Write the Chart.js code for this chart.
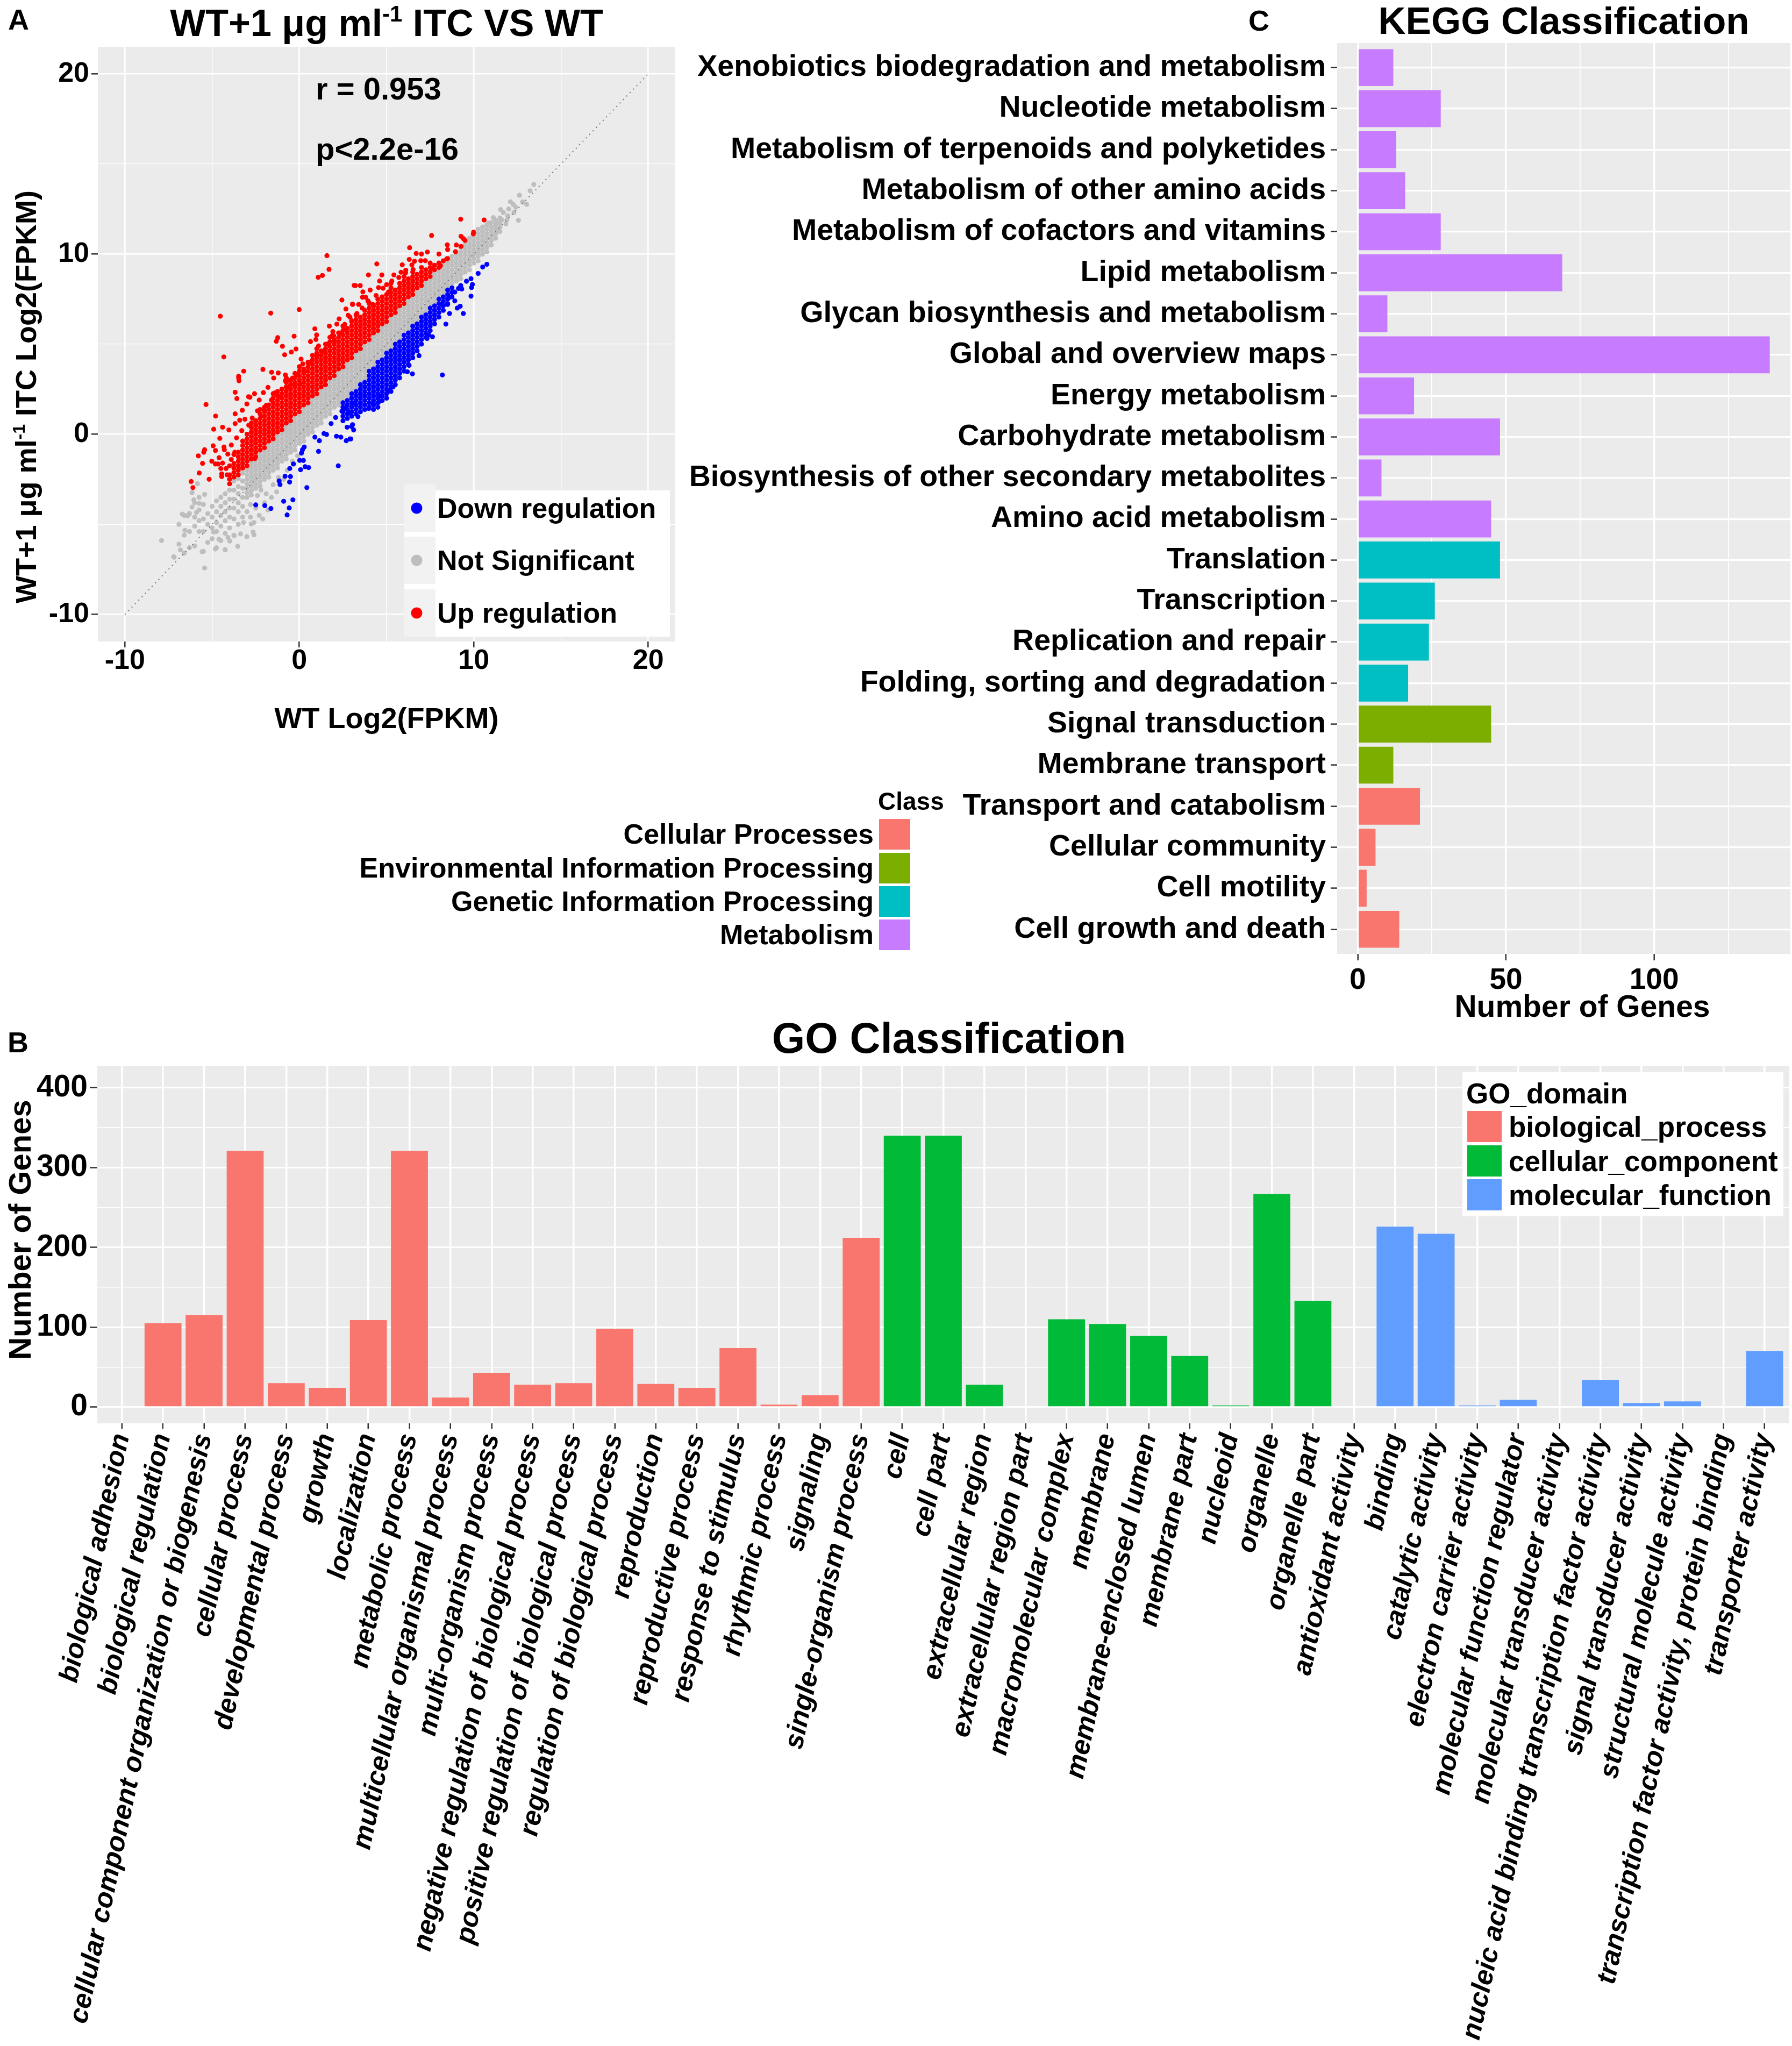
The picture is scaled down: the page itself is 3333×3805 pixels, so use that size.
<!DOCTYPE html>
<html>
<head>
<meta charset="utf-8">
<script src="https://cdn.jsdelivr.net/npm/chart.js@4.4.1/dist/chart.umd.min.js"></script>
<style>
  body { margin: 0; background: #fff; width: 3333px; height: 3805px; position: relative; overflow: hidden; }
  canvas { position: absolute; }
  .tag { position: absolute; font: bold 54px "Liberation Sans", Arial, sans-serif; line-height: 1; color: #000; }
</style>
</head>
<body>
<canvas id="scatterChart" width="1300" height="1420" style="left:0;top:0;width:1300px;height:1420px"></canvas>
<canvas id="keggChart" width="2733" height="1910" style="left:600px;top:0;width:2733px;height:1910px"></canvas>
<canvas id="goChart" width="3333" height="1925" style="left:0;top:1880px;width:3333px;height:1925px"></canvas>
<div class="tag" style="left:15px;top:9px">A</div>
<div class="tag" style="left:14px;top:1911px">B</div>
<div class="tag" style="left:2322px;top:11px">C</div>
<script>
var FAM = "'Liberation Sans', Arial, sans-serif";
Chart.defaults.font.family = FAM;
Chart.defaults.font.weight = 'bold';
Chart.defaults.color = '#000';

// ---------- Panel A: WT+1 ug/ml ITC vs WT (log2 FPKM) ----------
// grey band (not significant), columns of [x, [y...]]
var nsBand = [
  [-3, [-3.5, -3.25, -3, -2.75, -2.5, -2.25, -2]],
  [-2.75, [-3.375, -3.125, -2.875, -2.625, -2.375, -2.125, -1.875, -1.625]],
  [-2.5, [-3, -2.75, -2.5, -2.25, -2, -1.75, -1.5]],
  [-2.25, [-2.875, -2.625, -2.375, -2.125, -1.875, -1.625, -1.375, -1.125]],
  [-2, [-2.5, -2.25, -2, -1.75, -1.5, -1.25, -1]],
  [-1.75, [-2.375, -2.125, -1.875, -1.625, -1.375, -1.125, -0.875, -0.625]],
  [-1.5, [-2, -1.75, -1.5, -1.25, -1, -0.75, -0.5]],
  [-1.25, [-1.875, -1.625, -1.375, -1.125, -0.875, -0.625, -0.375, -0.125]],
  [-1, [-1.5, -1.25, -1, -0.75, -0.5, -0.25, 0]],
  [-0.75, [-1.375, -1.125, -0.875, -0.625, -0.375, -0.125, 0.125, 0.375]],
  [-0.5, [-1, -0.75, -0.5, -0.25, 0, 0.25, 0.5]],
  [-0.25, [-0.875, -0.625, -0.375, -0.125, 0.125, 0.375, 0.625, 0.875]],
  [0, [-0.5, -0.25, 0, 0.25, 0.5, 0.75, 1]],
  [0.25, [-0.375, -0.125, 0.125, 0.375, 0.625, 0.875, 1.125, 1.375]],
  [0.5, [0, 0.25, 0.5, 0.75, 1, 1.25, 1.5]],
  [0.75, [0.125, 0.375, 0.625, 0.875, 1.125, 1.375, 1.625, 1.875]],
  [1, [0.5, 0.75, 1, 1.25, 1.5, 1.75, 2]],
  [1.25, [0.625, 0.875, 1.125, 1.375, 1.625, 1.875, 2.125, 2.375]],
  [1.5, [1, 1.25, 1.5, 1.75, 2, 2.25, 2.5]],
  [1.75, [1.125, 1.375, 1.625, 1.875, 2.125, 2.375, 2.625, 2.875]],
  [2, [1.5, 1.75, 2, 2.25, 2.5, 2.75, 3]],
  [2.25, [1.625, 1.875, 2.125, 2.375, 2.625, 2.875, 3.125, 3.375]],
  [2.5, [2, 2.25, 2.5, 2.75, 3, 3.25, 3.5]],
  [2.75, [2.125, 2.375, 2.625, 2.875, 3.125, 3.375, 3.625, 3.875]],
  [3, [2.5, 2.75, 3, 3.25, 3.5, 3.75, 4]],
  [3.25, [2.625, 2.875, 3.125, 3.375, 3.625, 3.875, 4.125, 4.375]],
  [3.5, [3, 3.25, 3.5, 3.75, 4, 4.25, 4.5]],
  [3.75, [3.125, 3.375, 3.625, 3.875, 4.125, 4.375, 4.625, 4.875]],
  [4, [3.75, 4, 4.25, 4.5, 4.75, 5]],
  [4.25, [3.875, 4.125, 4.375, 4.625, 4.875, 5.125, 5.375]],
  [4.5, [4.25, 4.5, 4.75, 5, 5.25, 5.5]],
  [4.75, [4.375, 4.625, 4.875, 5.125, 5.375, 5.625, 5.875]],
  [5, [4.75, 5, 5.25, 5.5, 5.75, 6]],
  [5.25, [4.875, 5.125, 5.375, 5.625, 5.875, 6.125, 6.375]],
  [5.5, [5.25, 5.5, 5.75, 6, 6.25, 6.5]],
  [5.75, [5.375, 5.625, 5.875, 6.125, 6.375, 6.625, 6.875]],
  [6, [5.75, 6, 6.25, 6.5, 6.75, 7]],
  [6.25, [5.875, 6.125, 6.375, 6.625, 6.875, 7.125, 7.375]],
  [6.5, [6.25, 6.5, 6.75, 7, 7.25, 7.5]],
  [6.75, [6.375, 6.625, 6.875, 7.125, 7.375, 7.625, 7.875]],
  [7, [6.75, 7, 7.25, 7.5, 7.75, 8]],
  [7.25, [6.875, 7.125, 7.375, 7.625, 7.875, 8.125, 8.375]],
  [7.5, [7.25, 7.5, 7.75, 8, 8.25, 8.5]],
  [7.75, [7.375, 7.625, 7.875, 8.125, 8.375, 8.625, 8.875]],
  [8, [7.75, 8, 8.25, 8.5, 8.75, 9]],
  [8.25, [7.875, 8.125, 8.375, 8.625, 8.875, 9.125, 9.375]],
  [8.5, [8.25, 8.5, 8.75, 9, 9.25, 9.5]],
  [8.75, [8.375, 8.625, 8.875, 9.125, 9.375, 9.625, 9.875]],
  [9, [8.5, 8.75, 9, 9.25, 9.5, 9.75, 10]],
  [9.25, [8.625, 8.875, 9.125, 9.375, 9.625, 9.875, 10.125, 10.375]],
  [9.5, [9, 9.25, 9.5, 9.75, 10, 10.25, 10.5]],
  [9.75, [9.125, 9.375, 9.625, 9.875, 10.125, 10.375, 10.625, 10.875]],
  [10, [9.5, 9.75, 10, 10.25, 10.5, 10.75, 11]],
  [10.25, [9.625, 9.875, 10.125, 10.375, 10.625, 10.875, 11.125, 11.375]],
  [10.5, [10, 10.25, 10.5, 10.75, 11, 11.25, 11.5]],
  [10.75, [10.125, 10.375, 10.625, 10.875, 11.125, 11.375, 11.625]],
  [11, [10.5, 10.75, 11, 11.25, 11.5, 11.75]],
  [11.25, [10.875, 11.125, 11.375, 11.625, 11.875]],
  [11.5, [11.25, 11.5, 11.75, 12]]
];
// grey points outside the main band: low-expression tail and high end
var nsLoose = [
  [-3.25, -4.6], [-3.25, -4.0], [-3.25, -3.5], [-3.25, -3.0], [-3.25, -2.6], [-3.25, -2.15],
  [-3.5, -5.0], [-3.5, -4.3], [-3.5, -3.8], [-3.5, -3.3], [-3.5, -2.9], [-3.5, -2.45],
  [-3.75, -5.6], [-3.75, -4.7], [-3.75, -4.1], [-3.75, -3.6], [-3.75, -3.1], [-3.75, -2.6],
  [-4.0, -5.2], [-4.0, -4.6], [-4.0, -4.1], [-4.0, -3.6], [-4.0, -3.1],
  [-4.25, -6.4], [-4.25, -5.5], [-4.25, -4.8], [-4.25, -4.3], [-4.25, -3.8], [-4.25, -3.3],
  [-4.5, -5.9], [-4.5, -5.1], [-4.5, -4.5], [-4.5, -4.0], [-4.5, -3.5],
  [-4.75, -6.3], [-4.75, -5.4], [-4.75, -4.9], [-4.75, -4.3], [-4.75, -3.7],
  [-5.0, -5.8], [-5.0, -5.2], [-5.0, -4.6], [-5.0, -4.0],
  [-5.25, -6.0], [-5.25, -5.0], [-5.25, -4.4],
  [-5.5, -6.5], [-5.5, -5.4], [-5.5, -4.7], [-5.5, -3.9],
  [-5.75, -5.4], [-5.75, -4.8], [-5.75, -4.2], [-5.75, -3.5],
  [-6.0, -6.2], [-6.0, -5.1], [-6.0, -4.6], [-6.0, -3.8],
  [-6.3, -6.3], [-6.3, -5.4], [-6.3, -4.4], [-6.6, -6.6], [-6.6, -5.6], [-6.6, -4.5],
  [-6.9, -6.1], [-6.9, -5.0], [-7.2, -6.8], [-7.9, -5.9], [-5.43, -7.42], [-6.82, -6.42],
  [-7.18, -6.82], [-4.81, -6.37], [-4.25, -6.42], [-3.53, -6.22], [-3.01, -5.68], [-2.65, -5.43],
  [-2.6, -5.58], [-2.76, -4.98], [-6.71, -4.43], [-6.41, -4.53], [-6.56, -5.33], [-6.15, -4.04],
  [-5.89, -4.33], [-5.74, -3.84], [-5.43, -3.34], [-6.05, -3.64], [-6.15, -3.24], [-5.84, -2.74],
  [-4.91, -5.43], [-4.61, -5.83], [-4.09, -5.73], [-3.99, -5.93], [-3.73, -5.63], [-3.37, -5.53],
  [-5.58, -6.52], [-3.0, -4.3], [-2.8, -4.6], [-2.5, -4.1], [-2.3, -4.5], [-2.0, -3.8],
  [-1.8, -4.2], [-1.6, -3.5], [-1.3, -3.2], [-1.1, -2.8], [-0.9, -2.5], [-3.2, -4.9],
  [-2.6, -4.9], [-2.1, -4.7], [-1.9, -3.3], [-2.4, -3.4], [-1.5, -2.8], [-1.2, -2.4],
  [-0.7, -2.0], [-2.8, -3.9], [-2.2, -3.1], [-0.4, -1.5], [-0.1, -1.2],
  [11.54, 12.47], [11.12, 12.02], [11.95, 12.12], [12.56, 11.87], [11.84, 11.67], [10.82, 11.72],
  [11.43, 11.27], [12.26, 12.76], [13.03, 12.76], [12.62, 13.26], [13.23, 13.51], [13.44, 13.86],
  [11.7, 12.3], [12.0, 12.5], [12.3, 12.3], [11.6, 11.9], [12.1, 12.9], [12.8, 12.9],
  [11.3, 11.7], [12.4, 12.6], [11.9, 11.9]
];
// up-regulated (red) dense body
var upBand = [
  [-4, [-2.75, -2.5, -2.25, -1.75]],
  [-3.75, [-2.375, -2.125, -1.875, -1.625, -1.125]],
  [-3.5, [-2.25, -2, -1.75, -1.5, -1.25, -1]],
  [-3.25, [-1.875, -1.625, -1.375, -1.125, -0.875, -0.625, -0.375]],
  [-3, [-1.75, -1.5, -1.25, -1, -0.75, -0.5, -0.25, 0]],
  [-2.75, [-1.375, -1.125, -0.875, -0.625, -0.375, -0.125, 0.125, 0.375, 0.625]],
  [-2.5, [-1.25, -1, -0.75, -0.5, -0.25, 0, 0.25, 0.5, 0.75]],
  [-2.25, [-0.875, -0.625, -0.375, -0.125, 0.125, 0.375, 0.625, 0.875, 1.125, 1.375]],
  [-2, [-0.75, -0.5, -0.25, 0, 0.25, 0.5, 0.75, 1, 1.25, 1.5]],
  [-1.75, [-0.375, -0.125, 0.125, 0.375, 0.625, 0.875, 1.125, 1.375, 1.625]],
  [-1.5, [-0.25, 0, 0.25, 0.5, 0.75, 1, 1.25, 1.5, 1.75, 2, 2.25]],
  [-1.25, [0.125, 0.375, 0.625, 0.875, 1.125, 1.375, 1.625, 1.875, 2.125, 2.375]],
  [-1, [0.25, 0.5, 0.75, 1, 1.25, 1.5, 1.75, 2, 2.25, 2.5]],
  [-0.75, [0.625, 0.875, 1.125, 1.375, 1.625, 1.875, 2.125, 2.375, 2.625, 2.875, 3.125]],
  [-0.5, [0.75, 1, 1.25, 1.5, 1.75, 2, 2.25, 2.5, 2.75, 3]],
  [-0.25, [1.125, 1.375, 1.625, 1.875, 2.125, 2.375, 2.625, 2.875, 3.125, 3.375]],
  [0, [1.25, 1.5, 1.75, 2, 2.25, 2.5, 2.75, 3, 3.25, 3.5, 3.75]],
  [0.25, [1.625, 1.875, 2.125, 2.375, 2.625, 2.875, 3.125, 3.375, 3.625]],
  [0.5, [1.75, 2, 2.25, 2.5, 2.75, 3, 3.25, 3.5, 3.75, 4]],
  [0.75, [2.125, 2.375, 2.625, 2.875, 3.125, 3.375, 3.625, 3.875, 4.125, 4.375]],
  [1, [2.25, 2.5, 2.75, 3, 3.25, 3.5, 3.75, 4, 4.25, 4.5, 4.75]],
  [1.25, [2.625, 2.875, 3.125, 3.375, 3.625, 3.875, 4.125, 4.375, 4.625]],
  [1.5, [2.75, 3, 3.25, 3.5, 3.75, 4, 4.25, 4.5, 4.75, 5]],
  [1.75, [3.125, 3.375, 3.625, 3.875, 4.125, 4.375, 4.625, 4.875, 5.125, 5.375]],
  [2, [3.25, 3.5, 3.75, 4, 4.25, 4.5, 4.75, 5, 5.25]],
  [2.25, [3.625, 3.875, 4.125, 4.375, 4.625, 4.875, 5.125, 5.375, 5.625]],
  [2.5, [3.75, 4, 4.25, 4.5, 4.75, 5, 5.25, 5.5, 5.75, 6]],
  [2.75, [4.125, 4.375, 4.625, 4.875, 5.125, 5.375, 5.625, 5.875]],
  [3, [4.25, 4.5, 4.75, 5, 5.25, 5.5, 5.75, 6, 6.25]],
  [3.25, [4.625, 4.875, 5.125, 5.375, 5.625, 5.875, 6.125, 6.375, 6.625]],
  [3.5, [4.75, 5, 5.25, 5.5, 5.75, 6, 6.25, 6.5]],
  [3.75, [5.125, 5.375, 5.625, 5.875, 6.125, 6.375, 6.625, 6.875]],
  [4, [5.25, 5.5, 5.75, 6, 6.25, 6.5, 6.75, 7, 7.25]],
  [4.25, [5.625, 5.875, 6.125, 6.375, 6.625, 6.875, 7.125]],
  [4.5, [5.75, 6, 6.25, 6.5, 6.75, 7, 7.25, 7.5]],
  [4.75, [6.125, 6.375, 6.625, 6.875, 7.125, 7.375, 7.625]],
  [5, [6.25, 6.5, 6.75, 7, 7.25, 7.5, 7.75]],
  [5.25, [6.625, 6.875, 7.125, 7.375, 7.625, 7.875, 8.125, 8.375]],
  [5.5, [6.75, 7, 7.25, 7.5, 7.75, 8]],
  [5.75, [7.125, 7.375, 7.625, 7.875, 8.125, 8.375]],
  [6, [7.25, 7.5, 7.75, 8, 8.25, 8.5, 8.75]],
  [6.25, [7.625, 7.875, 8.125, 8.375, 8.625]],
  [6.5, [7.75, 8, 8.25, 8.5, 8.75, 9]],
  [6.75, [8.125, 8.375, 8.625, 8.875]],
  [7, [8.25, 8.5, 8.75, 9, 9.25]],
  [7.25, [8.625, 8.875, 9.125]],
  [7.5, [8.75, 9, 9.25, 9.5]],
  [7.75, [9.125, 9.375]],
  [8, [9.25, 9.5, 10]],
  [8.25, [9.625]],
  [8.5, [9.75, 10.25]],
  [9, [10.5]],
  [9.5, [10.75]]
];
// up-regulated (red) scattered points
var upLoose = [
  [1.58, 9.91], [1.70, 9.15], [1.08, 8.71], [1.32, 8.81], [3.14, 8.26], [2.44, 7.45], [3.05, 7.22],
  [2.67, 6.95], [-4.53, 6.55], [-1.64, 6.72], [-0.01, 6.92], [-4.33, 4.29], [-3.19, 3.50], [-2.09, 3.60],
  [-3.48, 3.22], [-1.59, 3.44], [-1.21, 3.40], [-0.80, 3.29], [-0.15, 3.29], [-1.24, 5.36], [-1.32, 5.16],
  [-0.30, 5.44], [-0.97, 4.88], [-0.84, 4.41], [-0.46, 4.56], [-0.19, 4.73], [0.10, 4.17], [0.51, 3.95],
  [0.64, 5.14], [0.89, 5.85], [0.99, 5.51], [0.95, 5.26], [1.72, 6.0], [2.15, 6.11], [2.28, 6.40],
  [2.59, 5.81], [2.80, 6.60], [3.0, 6.30], [1.92, 5.70], [1.97, 5.46],
  [9.25, 11.93], [10.59, 11.89], [7.58, 11.03], [9.99, 11.21], [9.97, 11.12], [9.27, 10.98], [9.41, 10.85],
  [8.48, 10.51], [9.27, 10.42], [8.95, 10.13], [6.32, 10.35], [6.70, 10.03], [7.34, 10.11], [8.45, 9.73],
  [4.44, 9.45], [3.96, 8.84], [4.73, 8.84], [5.42, 8.84], [5.83, 8.99], [6.09, 8.96], [6.96, 9.63],
  [7.22, 9.63], [6.45, 9.39], [6.52, 9.14], [7.68, 9.19], [8.09, 9.36], [3.21, 8.25], [3.49, 8.25],
  [3.64, 7.90], [4.06, 8.0], [4.54, 8.14], [3.05, 7.20], [3.62, 7.60], [3.93, 7.40], [4.22, 7.20],
  [5.11, 7.90], [5.24, 7.87],
  [-6.2, -2.62], [-6.10, -2.96], [-5.74, -2.15], [-5.79, -1.20], [-5.55, -1.62], [-5.43, -0.86],
  [-5.48, -1.0], [-5.35, 1.65], [-4.80, 1.01], [-4.91, 0.28], [-4.40, 0.39], [-4.56, -0.23],
  [-4.94, -0.64], [-4.81, -0.90], [-5.17, -2.50], [-5.02, -1.50], [-4.81, -1.65], [-4.66, -1.65],
  [-4.45, -2.35], [-4.14, -2.25], [-4.32, -0.71], [-4.30, -0.86], [-3.68, 2.33], [-3.58, 1.98],
  [-2.91, 2.08], [-2.83, 2.05], [-2.57, 2.25], [-2.06, 2.31], [-3.01, 1.68], [-3.68, 1.13],
  [-3.42, 0.78], [-3.12, 0.83], [-3.27, 1.33], [-3.68, 0.59], [-4.04, 0.24], [-3.48, 3.12],
  [-3.46, 2.97], [-1.47, 3.12], [-0.80, 2.97], [-0.39, 3.12], [-0.29, 2.77], [0.02, 2.77],
  [-2.55, -1.35], [-4.45, -2.2], [-4.6, -1.3], [-4.4, -1.6], [-4.2, -1.9], [-3.9, -1.4],
  [-3.7, -1.0], [-4.1, -1.1], [-4.5, -1.9],
  [-2.7, 0.9], [-2.4, 1.3], [-2.2, 1.0], [-1.9, 1.6], [-1.6, 1.9], [-1.4, 2.3], [-1.0, 2.5],
  [-0.6, 2.6], [-2.9, 0.5], [-2.0, 1.3], [-1.2, 2.1], [-0.7, 3.0], [-1.8, 2.6], [-2.3, 1.9],
  [-3.3, 0.2], [-3.6, -0.2], [-3.9, -0.6], [0.3, 3.5], [0.6, 4.0], [1.0, 4.4], [1.3, 4.6],
  [1.6, 5.0], [2.0, 5.2], [2.3, 5.6], [2.6, 6.1], [0.2, 3.9], [1.1, 4.9], [1.9, 5.5], [2.9, 6.5],
  [3.3, 6.7], [3.6, 7.0], [4.0, 7.3], [4.4, 7.7], [4.8, 8.1], [5.3, 8.5], [5.7, 8.7], [6.1, 9.1],
  [6.6, 9.6], [7.0, 10.0], [4.6, 8.5], [5.0, 8.3], [5.9, 9.4], [6.3, 9.7], [3.8, 7.6], [3.4, 7.2]
];
// down-regulated (blue) dense body
var downBand = [
  [2.5, [1.75, 1.5, 1.25, 1, 0.75]],
  [2.75, [1.875, 1.625, 1.375, 1.125, 0.875]],
  [3, [2.25, 2, 1.75, 1.5, 1.25, 1]],
  [3.25, [2.375, 2.125, 1.875, 1.625, 1.375, 1.125]],
  [3.5, [2.75, 2.5, 2.25, 2, 1.75, 1.5, 1.25]],
  [3.75, [2.875, 2.625, 2.375, 2.125, 1.875, 1.625, 1.375]],
  [4, [3.5, 3.25, 3, 2.75, 2.5, 2.25, 2, 1.75, 1.5]],
  [4.25, [3.625, 3.375, 3.125, 2.875, 2.625, 2.375, 2.125, 1.875, 1.625, 1.375]],
  [4.5, [4, 3.75, 3.5, 3.25, 3, 2.75, 2.5, 2.25, 2, 1.75, 1.5]],
  [4.75, [4.125, 3.875, 3.625, 3.375, 3.125, 2.875, 2.625, 2.375, 2.125, 1.875]],
  [5, [4.5, 4.25, 4, 3.75, 3.5, 3.25, 3, 2.75, 2.5, 2.25, 2]],
  [5.25, [4.625, 4.375, 4.125, 3.875, 3.625, 3.375, 3.125, 2.875, 2.625, 2.375]],
  [5.5, [5, 4.75, 4.5, 4.25, 4, 3.75, 3.5, 3.25, 3, 2.75]],
  [5.75, [5.125, 4.875, 4.625, 4.375, 4.125, 3.875, 3.625, 3.375, 3.125]],
  [6, [5.5, 5.25, 5, 4.75, 4.5, 4.25, 4, 3.75, 3.5]],
  [6.25, [5.625, 5.375, 5.125, 4.875, 4.625, 4.375, 4.125, 3.875]],
  [6.5, [6, 5.75, 5.5, 5.25, 5, 4.75, 4.5, 4.25]],
  [6.75, [6.125, 5.875, 5.625, 5.375, 5.125, 4.875, 4.625]],
  [7, [6.5, 6.25, 6, 5.75, 5.5, 5.25, 5]],
  [7.25, [6.625, 6.375, 6.125, 5.875, 5.625, 5.375]],
  [7.5, [7, 6.75, 6.5, 6.25, 6, 5.75]],
  [7.75, [7.125, 6.875, 6.625, 6.375, 6.125]],
  [8, [7.5, 7.25, 7, 6.75, 6.5]],
  [8.25, [7.625, 7.375, 7.125, 6.875]],
  [8.5, [8, 7.75, 7.5, 7.25]],
  [8.75, [8.125, 7.875, 7.625]],
  [9.25, [8.25]]
];
// down-regulated (blue) scattered points
var downLoose = [
  [10.75, 9.43], [10.51, 9.28], [10.25, 8.92], [9.58, 8.49], [9.84, 8.63], [9.92, 8.31], [9.87, 8.14],
  [9.84, 7.66], [8.91, 7.89], [9.12, 8.09], [9.31, 8.06], [8.62, 7.60], [8.91, 7.40], [9.05, 7.0],
  [9.22, 7.10], [9.40, 6.70], [8.20, 7.20], [8.50, 7.20], [8.61, 6.70], [8.40, 6.11], [8.20, 3.29],
  [7.63, 5.41], [7.32, 5.31], [7.42, 5.51], [6.48, 3.35], [6.19, 3.47], [6.86, 4.36], [6.29, 3.82],
  [3.98, 1.43], [4.24, 1.68], [4.60, 1.83], [4.70, 2.13], [3.36, 0.98], [3.05, 0.53], [5.16, 2.42],
  [5.37, 2.62], [3.11, 0.24], [2.95, -0.26], [1.82, 0.59], [2.08, 0.93], [2.44, 1.28], [2.69, 1.43],
  [2.13, -0.11], [2.38, -0.16], [2.69, -0.36], [2.90, -0.26], [2.74, 0.39], [3.0, 0.43], [2.90, 1.23],
  [3.11, 1.73], [0.89, -0.16], [1.15, -0.36], [1.10, -0.95], [1.41, 0.04], [1.56, -0.01], [2.23, -1.75],
  [0.18, -0.86], [0.28, -0.71], [0.12, -1.05], [-0.55, -1.90], [-0.34, -1.65], [0.02, -1.45],
  [0.23, -1.45], [0.07, -1.97], [0.33, -1.80], [0.53, -1.85], [-1.16, -2.59], [-1.11, -2.79],
  [-0.82, -2.33], [-0.51, -2.35], [-0.56, -2.65], [0.43, -2.96], [-0.90, -3.72], [-0.37, -3.64],
  [-0.58, -4.09], [-0.70, -4.48], [-2.50, -3.92], [-1.98, -3.96], [-1.63, -4.12]
];
var diagLine = [[-10, -10], [20, 20]];
var scatterTicks = [-10, -5, 0, 5, 10, 15, 20];

// ---------- Panel C: KEGG classification ----------
var keggPathways = [
  'Xenobiotics biodegradation and metabolism', 'Nucleotide metabolism',
  'Metabolism of terpenoids and polyketides', 'Metabolism of other amino acids',
  'Metabolism of cofactors and vitamins', 'Lipid metabolism',
  'Glycan biosynthesis and metabolism', 'Global and overview maps', 'Energy metabolism',
  'Carbohydrate metabolism', 'Biosynthesis of other secondary metabolites', 'Amino acid metabolism',
  'Translation', 'Transcription', 'Replication and repair', 'Folding, sorting and degradation',
  'Signal transduction', 'Membrane transport', 'Transport and catabolism', 'Cellular community',
  'Cell motility', 'Cell growth and death'
];
var keggGenes = [12, 28, 13, 16, 28, 69, 10, 139, 19, 48, 8, 45, 48, 26, 24, 17, 45, 12, 21, 6, 3, 14];
var keggClass = ['M', 'M', 'M', 'M', 'M', 'M', 'M', 'M', 'M', 'M', 'M', 'M', 'G', 'G', 'G', 'G', 'E', 'E', 'C', 'C', 'C', 'C'];
var classNames = ['Cellular Processes', 'Environmental Information Processing', 'Genetic Information Processing', 'Metabolism'];
var classColors = { C: '#F8766D', E: '#7CAE00', G: '#00BFC4', M: '#C77CFF' };
var keggTicks = [0, 25, 50, 75, 100, 125];

// ---------- Panel B: GO classification ----------
var goTerms = [
  'biological adhesion', 'biological regulation', 'cellular component organization or biogenesis',
  'cellular process', 'developmental process', 'growth', 'localization', 'metabolic process',
  'multicellular organismal process', 'multi-organism process',
  'negative regulation of biological process', 'positive regulation of biological process',
  'regulation of biological process', 'reproduction', 'reproductive process', 'response to stimulus',
  'rhythmic process', 'signaling', 'single-organism process',
  'cell', 'cell part', 'extracellular region', 'extracellular region part', 'macromolecular complex',
  'membrane', 'membrane-enclosed lumen', 'membrane part', 'nucleoid', 'organelle', 'organelle part',
  'antioxidant activity', 'binding', 'catalytic activity', 'electron carrier activity',
  'molecular function regulator', 'molecular transducer activity',
  'nucleic acid binding transcription factor activity', 'signal transducer activity',
  'structural molecule activity', 'transcription factor activity, protein binding', 'transporter activity'
];
var goGenes = [1, 105, 115, 321, 30, 24, 109, 321, 12, 43, 28, 30, 98, 29, 24, 74, 3, 15, 212,
  340, 340, 28, 1, 110, 104, 89, 64, 2, 267, 133,
  1, 226, 217, 2, 9, 1, 34, 5, 7, 1, 70];
var goDomain = ['bp', 'bp', 'bp', 'bp', 'bp', 'bp', 'bp', 'bp', 'bp', 'bp', 'bp', 'bp', 'bp', 'bp', 'bp', 'bp', 'bp', 'bp', 'bp',
  'cc', 'cc', 'cc', 'cc', 'cc', 'cc', 'cc', 'cc', 'cc', 'cc', 'cc',
  'mf', 'mf', 'mf', 'mf', 'mf', 'mf', 'mf', 'mf', 'mf', 'mf', 'mf'];
var domainNames = ['biological_process', 'cellular_component', 'molecular_function'];
var domainColors = { bp: '#F8766D', cc: '#00BA38', mf: '#619CFF' };
var goTicks = [0, 50, 100, 150, 200, 250, 300, 350, 400];

// ---------- helpers ----------
function colsToXY(cols) {
  var out = [];
  cols.forEach(function (c) { c[1].forEach(function (y) { out.push({ x: c[0], y: y }); }); });
  return out;
}
function pairsToXY(ps) { return ps.map(function (p) { return { x: p[0], y: p[1] }; }); }

var panelBg = {
  id: 'panelBg',
  beforeDraw: function (chart) {
    var a = chart.chartArea, ctx = chart.ctx;
    ctx.save();
    ctx.fillStyle = '#EBEBEB';
    ctx.fillRect(a.left, a.top, a.right - a.left, a.bottom - a.top);
    ctx.restore();
  }
};

function font(size, weight) { return (weight || 'bold') + ' ' + size + 'px ' + FAM; }

// text with a superscript part, centred on (x, y baseline), optional rotation
function drawRich(ctx, parts, x, y, size, rot) {
  ctx.save();
  ctx.translate(x, y);
  ctx.rotate(rot);
  ctx.textBaseline = 'alphabetic';
  ctx.textAlign = 'left';
  var total = 0;
  parts.forEach(function (p) {
    ctx.font = font(p[1] ? Math.round(size * 0.6) : size);
    p.w = ctx.measureText(p[0]).width;
    total += p.w;
  });
  var cx = -total / 2;
  parts.forEach(function (p) {
    ctx.font = font(p[1] ? Math.round(size * 0.6) : size);
    ctx.fillText(p[0], cx, p[1] ? -size * 0.38 : 0);
    cx += p.w;
  });
  ctx.restore();
}

var scatterDecor = {
  id: 'scatterDecor',
  afterDraw: function (chart) {
    var ctx = chart.ctx;
    ctx.save();
    ctx.fillStyle = '#000';
    drawRich(ctx, [['WT+1 \u03bcg ml', 0], ['-1', 1], [' ITC VS WT', 0]], 719, 67, 70, 0);
    drawRich(ctx, [['WT+1 \u03bcg ml', 0], ['-1', 1], [' ITC Log2(FPKM)', 0]], 67, 738, 54, -Math.PI / 2);
    ctx.font = font(58);
    ctx.textAlign = 'left';
    ctx.textBaseline = 'alphabetic';
    ctx.fillText('r = 0.953', 587, 185);
    ctx.fillText('p<2.2e-16', 587, 297);
    // legend
    ctx.fillStyle = '#fff';
    ctx.fillRect(752, 912, 494, 272);
    var rows = [['Down regulation', '#0000FF', 945], ['Not Significant', '#BEBEBE', 1042], ['Up regulation', '#FF0000', 1140]];
    rows.forEach(function (r) {
      ctx.fillStyle = '#F2F2F2';
      ctx.fillRect(752, r[2] - 44, 58, 88);
      ctx.fillStyle = r[1];
      ctx.beginPath();
      ctx.arc(775, r[2], 10.5, 0, Math.PI * 2);
      ctx.fill();
      ctx.fillStyle = '#000';
      ctx.font = font(52);
      ctx.fillText(r[0], 813, r[2] + 18);
    });
    ctx.restore();
  }
};

var keggDecor = {
  id: 'keggDecor',
  afterDraw: function (chart) {
    var ctx = chart.ctx, a = chart.chartArea;
    ctx.save();
    ctx.fillStyle = '#000';
    ctx.font = font(71);
    ctx.textAlign = 'center';
    ctx.textBaseline = 'alphabetic';
    ctx.fillText('KEGG Classification', (a.left + a.right) / 2, 63);
    ctx.font = font(57);
    ctx.fillText('Number of Genes', 2343, 1891);
    ctx.textAlign = 'left';
    ctx.font = font(46);
    ctx.fillText('Class', 1033, 1506);
    var keys = ['C', 'E', 'G', 'M'];
    var tops = [1523, 1586, 1648, 1710];
    keys.forEach(function (k, i) {
      ctx.fillStyle = classColors[k];
      ctx.fillRect(1035, tops[i], 58, 57);
      ctx.fillStyle = '#000';
      ctx.font = font(52);
      ctx.textAlign = 'right';
      ctx.fillText(classNames[i], 1025, tops[i] + 28 + 18);
    });
    ctx.restore();
  }
};

var goDecor = {
  id: 'goDecor',
  afterDraw: function (chart) {
    var ctx = chart.ctx;
    ctx.save();
    ctx.fillStyle = '#000';
    ctx.font = font(79);
    ctx.textAlign = 'center';
    ctx.textBaseline = 'alphabetic';
    ctx.fillText('GO Classification', 1765, 78);
    // y axis title
    ctx.save();
    ctx.translate(57, 407);
    ctx.rotate(-Math.PI / 2);
    ctx.font = font(58);
    ctx.fillText('Number of Genes', 0, 0);
    ctx.restore();
    // legend
    ctx.fillStyle = '#fff';
    ctx.fillRect(2720, 114, 597, 268);
    ctx.fillStyle = '#000';
    ctx.textAlign = 'left';
    ctx.font = font(53);
    ctx.fillText('GO_domain', 2727, 172);
    var keys = ['bp', 'cc', 'mf'];
    var centers = [215, 279, 342];
    keys.forEach(function (k, i) {
      ctx.fillStyle = domainColors[k];
      ctx.fillRect(2729, centers[i] - 29, 64, 58);
      ctx.fillStyle = '#000';
      ctx.font = font(53);
      ctx.fillText(domainNames[i], 2806, centers[i] + 19);
    });
    ctx.restore();
  }
};

function minorAware(major, majorW, minorW) {
  return function (c) { return c.tick && c.tick.value % major === 0 ? majorW : minorW; };
}
function tickInk(major) {
  return function (c) { return c.tick && c.tick.value % major === 0 ? '#333333' : 'rgba(0,0,0,0)'; };
}

// ---------- Chart A ----------
new Chart(document.getElementById('scatterChart'), {
  type: 'scatter',
  data: {
    datasets: [
      { type: 'line', data: pairsToXY(diagLine), borderColor: '#777777', borderWidth: 2.2, borderDash: [2, 7], pointRadius: 0, fill: false },
      { label: 'Down regulation', data: colsToXY(downBand).concat(pairsToXY(downLoose)), backgroundColor: '#0000FF', borderWidth: 0, pointRadius: 4.6 },
      { label: 'Up regulation', data: colsToXY(upBand).concat(pairsToXY(upLoose)), backgroundColor: '#FF0000', borderWidth: 0, pointRadius: 4.6 },
      { label: 'Not Significant', data: colsToXY(nsBand).concat(pairsToXY(nsLoose)), backgroundColor: '#BEBEBE', borderWidth: 0, pointRadius: 4.6 }
    ]
  },
  options: {
    responsive: false, animation: false, devicePixelRatio: 1,
    layout: { padding: { left: 0, right: 44, top: 87, bottom: 0 } },
    plugins: { legend: { display: false }, tooltip: { enabled: false } },
    scales: {
      x: {
        type: 'linear', min: -11.55, max: 21.55,
        afterBuildTicks: function (s) { s.ticks = scatterTicks.map(function (v) { return { value: v }; }); },
        afterFit: function (s) { s.height = 227; s.paddingLeft = 0; s.paddingRight = 0; },
        grid: { color: '#fff', lineWidth: minorAware(10, 2.6, 1.3), tickColor: tickInk(10), tickLength: 11, tickWidth: 2.5 },
        border: { display: false },
        ticks: { callback: function (v) { return v % 10 === 0 ? String(v) : ''; }, font: { size: 52, weight: 'bold', lineHeight: 1 }, color: '#000', padding: 0, maxRotation: 0, autoSkip: false },
        title: { display: true, text: 'WT Log2(FPKM)', font: { size: 54, weight: 'bold' }, color: '#000', padding: { top: 0, bottom: 48 } }
      },
      y: {
        type: 'linear', min: -11.5, max: 21.5,
        afterBuildTicks: function (s) { s.ticks = scatterTicks.map(function (v) { return { value: v }; }); },
        afterFit: function (s) { s.width = 182; s.paddingTop = 0; s.paddingBottom = 0; },
        grid: { color: '#fff', lineWidth: minorAware(10, 2.6, 1.3), tickColor: tickInk(10), tickLength: 12, tickWidth: 2.5 },
        border: { display: false },
        ticks: { callback: function (v) { return v % 10 === 0 ? String(v) : ''; }, font: { size: 52, weight: 'bold' }, color: '#000', padding: 4, autoSkip: false }
      }
    }
  },
  plugins: [panelBg, scatterDecor]
});

// ---------- Chart C ----------
new Chart(document.getElementById('keggChart'), {
  type: 'bar',
  data: {
    datasets: [{
      data: keggGenes.map(function (v, i) { return { x: v, y: i + 1 }; }),
      backgroundColor: keggClass.map(function (c) { return classColors[c]; }),
      borderWidth: 0, barPercentage: 0.9, categoryPercentage: 1
    }]
  },
  options: {
    indexAxis: 'y', responsive: false, animation: false, devicePixelRatio: 1,
    layout: { padding: { left: 0, right: 3, top: 80, bottom: 0 } },
    plugins: { legend: { display: false }, tooltip: { enabled: false } },
    scales: {
      y: {
        type: 'linear', reverse: true, min: 0.4, max: 22.6, offset: false,
        afterBuildTicks: function (s) { s.ticks = keggPathways.map(function (_, i) { return { value: i + 1 }; }); },
        afterFit: function (s) { s.width = 1887; s.paddingTop = 0; s.paddingBottom = 0; },
        grid: { offset: false, color: '#fff', lineWidth: 3.2, tickColor: '#333333', tickLength: 12, tickWidth: 2.5 },
        border: { display: false },
        ticks: { callback: function (v) { return keggPathways[v - 1]; }, font: { size: 55.5, weight: 'bold' }, color: '#000', padding: 9, autoSkip: false }
      },
      x: {
        type: 'linear', min: -6.95, max: 145.95, offset: false,
        afterBuildTicks: function (s) { s.ticks = keggTicks.map(function (v) { return { value: v }; }); },
        afterFit: function (s) { s.height = 136; s.paddingLeft = 0; s.paddingRight = 0; },
        grid: { offset: false, color: '#fff', lineWidth: minorAware(50, 3.4, 1.8), tickColor: tickInk(50), tickLength: 12, tickWidth: 2.5 },
        border: { display: false },
        ticks: { callback: function (v) { return v % 50 === 0 ? String(v) : ''; }, font: { size: 55, weight: 'bold', lineHeight: 1 }, color: '#000', padding: 10, maxRotation: 0, autoSkip: false }
      }
    }
  },
  plugins: [panelBg, keggDecor]
});

// ---------- Chart B ----------
new Chart(document.getElementById('goChart'), {
  type: 'bar',
  data: {
    datasets: [{
      data: goGenes.map(function (v, i) { return { x: i + 1, y: v }; }),
      backgroundColor: goDomain.map(function (d) { return domainColors[d]; }),
      borderWidth: 0, barPercentage: 0.9, categoryPercentage: 1
    }]
  },
  options: {
    responsive: false, animation: false, devicePixelRatio: 1,
    layout: { padding: { left: 0, right: 5, top: 102, bottom: 0 } },
    plugins: { legend: { display: false }, tooltip: { enabled: false } },
    scales: {
      x: {
        type: 'linear', min: 0.4, max: 41.6, offset: false,
        afterBuildTicks: function (s) { s.ticks = goTerms.map(function (_, i) { return { value: i + 1 }; }); },
        afterFit: function (s) { s.height = 1158; s.paddingLeft = 0; s.paddingRight = 0; },
        grid: { offset: false, color: '#fff', lineWidth: 3.5, tickColor: '#333333', tickLength: 10, tickWidth: 2.5 },
        border: { display: false },
        ticks: { callback: function (v) { return goTerms[v - 1]; }, font: { size: 50.5, weight: 'bold', style: 'italic' }, color: '#000', padding: 4, minRotation: 78, maxRotation: 78, autoSkip: false }
      },
      y: {
        type: 'linear', min: -20.4, max: 427.6,
        afterBuildTicks: function (s) { s.ticks = goTicks.map(function (v) { return { value: v }; }); },
        afterFit: function (s) { s.width = 181; s.paddingTop = 0; s.paddingBottom = 0; },
        grid: { color: '#fff', lineWidth: minorAware(100, 3, 1.5), tickColor: tickInk(100), tickLength: 14, tickWidth: 2.5 },
        border: { display: false },
        ticks: { callback: function (v) { return v % 100 === 0 ? String(v) : ''; }, font: { size: 57, weight: 'bold' }, color: '#000', padding: 4, autoSkip: false }
      }
    }
  },
  plugins: [panelBg, goDecor]
});
</script>
</body>
</html>
